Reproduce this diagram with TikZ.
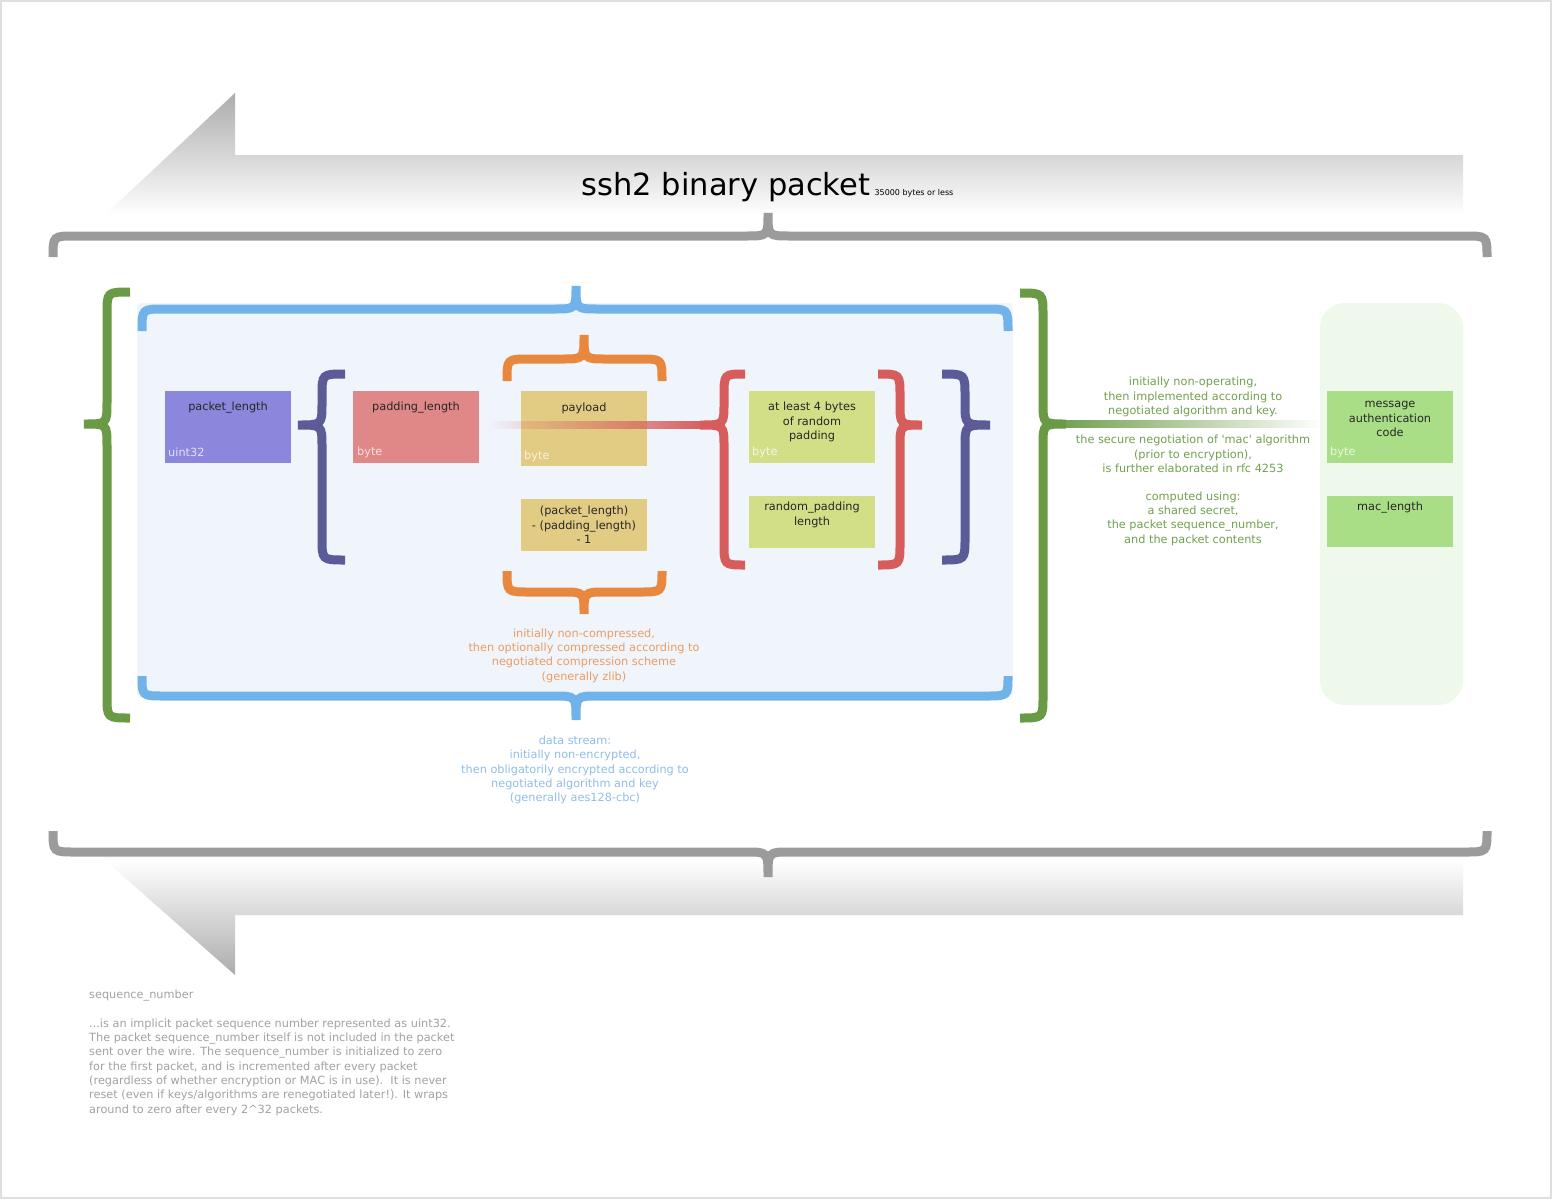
\documentclass[tikz,border=0pt]{standalone}
\usepackage{fontspec}
\setmainfont{DejaVu Sans}
\usetikzlibrary{fadings}
\definecolor{grayb}{HTML}{9B9B9B}
\definecolor{bluebr}{HTML}{6FB3EA}
\definecolor{panelcol}{HTML}{F0F5FC}
\definecolor{macpanel}{HTML}{EFF9EB}
\definecolor{greenbr}{HTML}{6A9A45}
\definecolor{purplebr}{HTML}{5B5B97}
\definecolor{redbr}{HTML}{D75D5D}
\definecolor{orangebr}{HTML}{E8883E}
\definecolor{boxpurple}{HTML}{8A87DC}
\definecolor{boxred}{HTML}{E08787}
\definecolor{boxyellow}{HTML}{E2CB83}
\definecolor{boxygreen}{HTML}{D3DF87}
\definecolor{boxgreen}{HTML}{A9DE87}
\definecolor{greentext}{HTML}{72A050}
\definecolor{orangetext}{HTML}{EA9C62}
\definecolor{bluetext}{HTML}{8FBEEA}
\definecolor{graytext}{HTML}{A2A2A2}
\newcommand{\bracev}[7]{%
  \draw[bracestyle,#1] (#2,#5) .. controls (#3,#5) .. (#3,{#5+22}) -- (#3,{#6-22})
    .. controls (#3,#6) .. (#4,#6) .. controls (#3,#6) .. (#3,{#6+22}) -- (#3,{#7-22})
    .. controls (#3,#7) .. (#2,#7);}
\newcommand{\braceh}[7]{%
  \draw[bracestyle,#1] (#2,#5) .. controls (#2,#4) .. ({#2+22},#4) -- ({#6-22},#4)
    .. controls (#6,#4) .. (#6,#7) .. controls (#6,#4) .. ({#6+22},#4) -- ({#3-22},#4)
    .. controls (#3,#4) .. (#3,#5);}
\begin{document}
\begin{tikzpicture}[x=1pt,y=-1pt,
  bracestyle/.style={line width=9pt},
  fieldbox/.style={draw=none, inner sep=0pt, anchor=north west, minimum width=126pt},
  boxtext/.style={font=\fontsize{11.3}{14.5}\selectfont, text=black!85, align=center, inner sep=0pt},
  bytetext/.style={font=\fontsize{11.3}{13}\selectfont, text=white, text opacity=0.75, anchor=west, inner sep=0pt},
  note/.style={font=\fontsize{11.3}{14.3}\selectfont, align=center, inner sep=0pt}]
\useasboundingbox (0,0) rectangle (1552,1199);
\fill[white] (0,0) rectangle (1552,1199);
\draw[gray!25, line width=1.5pt] (1,1) rectangle (1551,1198);
% big arrows
\shade[top color=gray!65, bottom color=white] (235,93) -- (235,155) -- (1463,155) -- (1463,215) -- (105,215) -- cycle;
\shade[top color=white, bottom color=gray!65] (105,860) -- (1463,860) -- (1463,915) -- (235,915) -- (235,975) -- cycle;
% gray braces
\braceh{grayb}{53}{1487}{236}{257}{768}{213}
\braceh{grayb}{53}{1487}{852}{831}{768}{877}
% panels
\fill[panelcol, rounded corners=4pt] (137,303) rectangle (1013,697);
\fill[macpanel, rounded corners=25pt] (1320,303) rectangle (1463,705);
% blue braces
\braceh{bluebr}{142}{1008}{309}{331}{576}{286}
\braceh{bluebr}{142}{1008}{696}{676}{576}{720}
% green line and braces
\fill[greenbr, path fading=east] (1043,420) rectangle (1322,428);
\bracev{greenbr}{130}{107}{84}{292}{424}{718}
\bracev{greenbr}{1020}{1043}{1066}{293}{424}{718}
% orange braces
\braceh{orangebr}{507}{662}{359}{381}{584}{335}
\braceh{orangebr}{507}{662}{592}{571}{584}{614}
% purple braces
\bracev{purplebr}{345}{322}{298}{374}{425}{560}
\bracev{purplebr}{942}{965}{990}{374}{425}{560}
% boxes
\node[fieldbox, fill=boxpurple, minimum height=72pt] (pl) at (165,391) {};
\node[fieldbox, fill=boxred, minimum height=72pt] (pad) at (353,391) {};
\node[fieldbox, fill=boxyellow, minimum height=75pt] (pay) at (521,391) {};
\node[fieldbox, fill=boxyellow, minimum height=52pt] (calc) at (521,499) {};
\node[fieldbox, fill=boxygreen, minimum height=72pt] (rnd) at (749,391) {};
\node[fieldbox, fill=boxygreen, minimum height=52pt] (rpl) at (749,496) {};
\node[fieldbox, fill=boxgreen, minimum height=72pt] (mac) at (1327,391) {};
\node[fieldbox, fill=boxgreen, minimum height=51pt] (macl) at (1327,496) {};
% red line and braces
\fill[redbr, path fading=west] (487,421) rectangle (705,429);
\bracev{redbr}{745}{724}{700}{374}{425}{565}
\bracev{redbr}{878}{900}{922}{374}{425}{565}
% box texts
\node[boxtext] (pltxt) at (228,408) {packet\_length};
\node[boxtext] (padtxt) at (416,408) {padding\_length};
\node[boxtext] (paytxt) at (584,408) {payload};
\node[boxtext] (calctxt) at (584,525) {(packet\_length)\\ - (padding\_length)\\ - 1};
\node[boxtext] (rndtxt) at (812,422) {at least 4 bytes\\of random\\padding};
\node[boxtext] (rpltxt) at (812,515) {random\_padding\\length};
\node[boxtext] (mactxt) at (1390,419) {message\\authentication\\code};
\node[boxtext] (macltxt) at (1390,508) {mac\_length};
\node[bytetext] (plb) at (168,452) {uint32};
\node[bytetext] (padb) at (357,452) {byte};
\node[bytetext] (payb) at (524,456) {byte};
\node[bytetext] (rndb) at (752,452) {byte};
\node[bytetext] (macb) at (1330,452) {byte};
% title
\node[font=\fontsize{30.5}{36}\selectfont, inner sep=0pt, anchor=base] (title) at (726,195) {ssh2 binary packet};
\node[font=\fontsize{8}{9}\selectfont, inner sep=0pt, anchor=base west] (size) at ([xshift=4pt]title.base east) {35000 bytes or less};
% notes
\node[note, text=greentext] (g1) at (1193,397) {initially non-operating,\\then implemented according to\\negotiated algorithm and key.};
\node[note, text=greentext] (g2) at (1193,454) {the secure negotiation of \textquotesingle mac\textquotesingle{} algorithm\\(prior to encryption),\\is further elaborated in rfc 4253};
\node[note, text=greentext] (g3) at (1193,518.5) {computed using:\\a shared secret,\\the packet sequence\_number,\\and the packet contents};
\node[note, text=orangetext] (o1) at (584,655.5) {initially non-compressed,\\then optionally compressed according to\\negotiated compression scheme\\(generally zlib)};
\node[note, text=bluetext] (b1) at (575,770) {data stream:\\initially non-encrypted,\\then obligatorily encrypted according to\\negotiated algorithm and key\\(generally aes128-cbc)};
\node[note, text=graytext, anchor=west] (s1) at (89,996) {sequence\_number};
\node[note, text=graytext, align=left, anchor=west] (s2) at (89,1067) {...is an implicit packet sequence number represented as uint32.\\
The packet sequence\_number itself is not included in the packet\\
sent over the wire. The sequence\_number is initialized to zero\\
for the first packet, and is incremented after every packet\\
(regardless of whether encryption or MAC is in use).\ \ It is never\\
reset (even if keys/algorithms are renegotiated later!). It wraps\\
around to zero after every 2\textasciicircum 32 packets.};
\end{tikzpicture}
\end{document}
